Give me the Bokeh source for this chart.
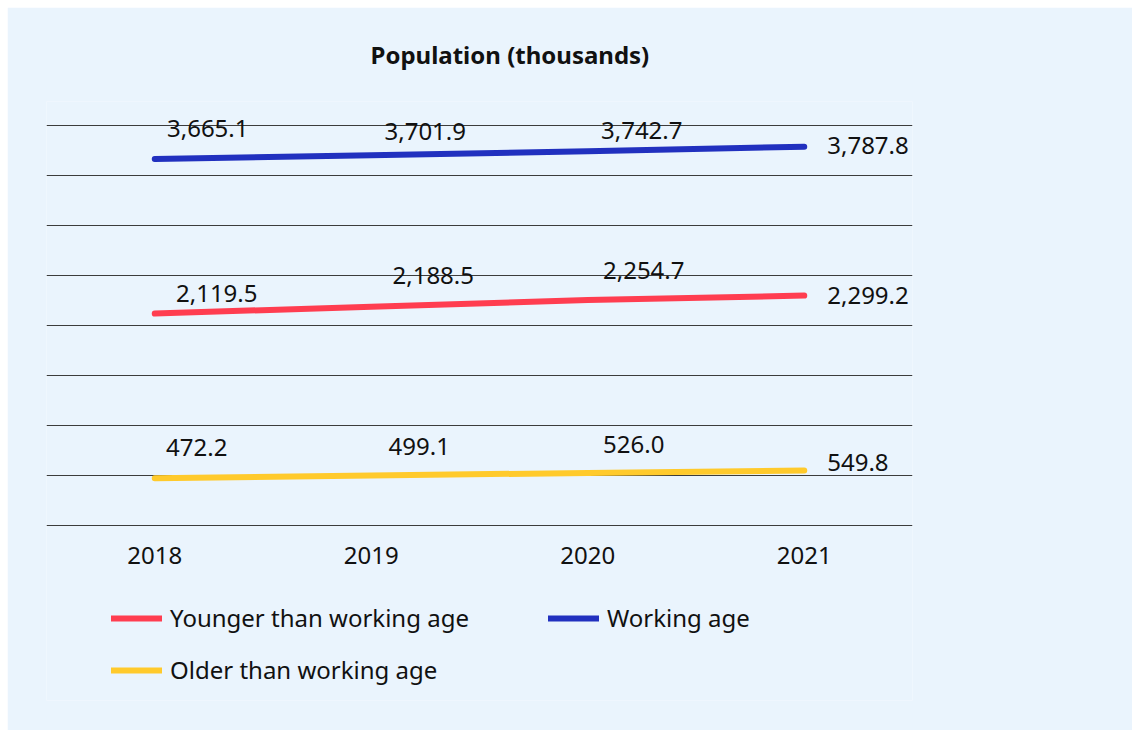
from bokeh.plotting import figure
from bokeh.models import (ColumnDataSource, FactorRange, Range1d, FixedTicker,
                          Legend, LegendItem)
from bokeh.embed import file_html
from bokeh.resources import INLINE

# ---------------- data ----------------
years = ["2018", "2019", "2020", "2021"]
younger = [2119.5, 2188.5, 2254.7, 2299.2]
working = [3665.1, 3701.9, 3742.7, 3787.8]
older = [472.2, 499.1, 526.0, 549.8]
series_names = ["Younger than working age", "Working age", "Older than working age"]
title_text = "Population (thousands)"
y_ticks = [0, 500, 1000, 1500, 2000, 2500, 3000, 3500, 4000]

# ---------------- style ----------------
colors = ["#FF3D50", "#2130BF", "#FFCA2C"]
BG = "#EAF4FD"
FONT = "Noto Sans"
GRID = "#3c3c3c"
# label offsets (screen px) relative to each point
label_dx = [[62, 62, 56, 23], [53, 54, 54, 23], [42, 48, 46, 23]]
label_dy = [[-20, -31, -30, 0], [-30, -24, -21, -1], [-31, -29, -28, -8]]
label_align = ["center", "center", "center", "left"]

# the frame also covers the legend area below the axis (y < 0 is empty space)
p = figure(
    x_range=FactorRange(factors=years, range_padding=0),
    y_range=Range1d(-1750, 4240),
    width=1125, height=723,
    output_backend="svg", toolbar_location=None,
    background_fill_color=BG, border_fill_color=BG,
    outline_line_color=None,
    min_border_left=39, min_border_right=220,
    min_border_top=94, min_border_bottom=30,
    margin=(7, 0, 0, 7),
)

p.title.text = title_text
p.title.text_font = FONT
p.title.text_font_size = "24px"
p.title.text_font_style = "bold"
p.title.text_color = "#111111"
p.title.align = "left"
p.title.offset = 324
p.title.vertical_align = "middle"
p.title.standoff = 59

p.yaxis.visible = False
p.xgrid.visible = False
p.ygrid.ticker = FixedTicker(ticks=y_ticks)
p.ygrid.grid_line_color = GRID
p.ygrid.grid_line_width = 1

ax = p.xaxis[0]
ax.fixed_location = 0
ax.axis_line_color = None
ax.major_tick_line_color = None
ax.minor_tick_line_color = None
ax.major_label_text_font = FONT
ax.major_label_text_font_size = "24px"
ax.major_label_text_color = "#111111"
ax.major_label_standoff = 15

series = [younger, working, older]
renderers = []
for vals, color, dx, dy in zip(series, colors, label_dx, label_dy):
    src = ColumnDataSource(dict(
        x=years, y=vals,
        label=[f"{v:,.1f}" for v in vals],
        dx=dx, dy=dy, align=label_align,
    ))
    r = p.line("x", "y", source=src, line_color=color, line_width=6,
               line_cap="round", line_join="round")
    renderers.append(r)
    p.text("x", "y", text="label", source=src,
           x_offset="dx", y_offset="dy", text_align="align",
           text_baseline="middle", text_font_size="24px",
           text_font={"value": FONT}, text_color="#111111")

legend = Legend(
    items=[LegendItem(label=n, renderers=[r]) for n, r in zip(series_names, renderers)],
    location=(65, 14),
    orientation="horizontal", ncols=2,
    glyph_width=51, glyph_height=20,
    label_standoff=8, label_width=359, label_height=20,
    spacing=19, padding=0, margin=0,
    label_text_font=FONT, label_text_font_size="24px", label_text_color="#111111",
    background_fill_alpha=0, border_line_color=None,
)
p.add_layout(legend, "center")

open("out.html", "w").write(file_html(p, INLINE))
